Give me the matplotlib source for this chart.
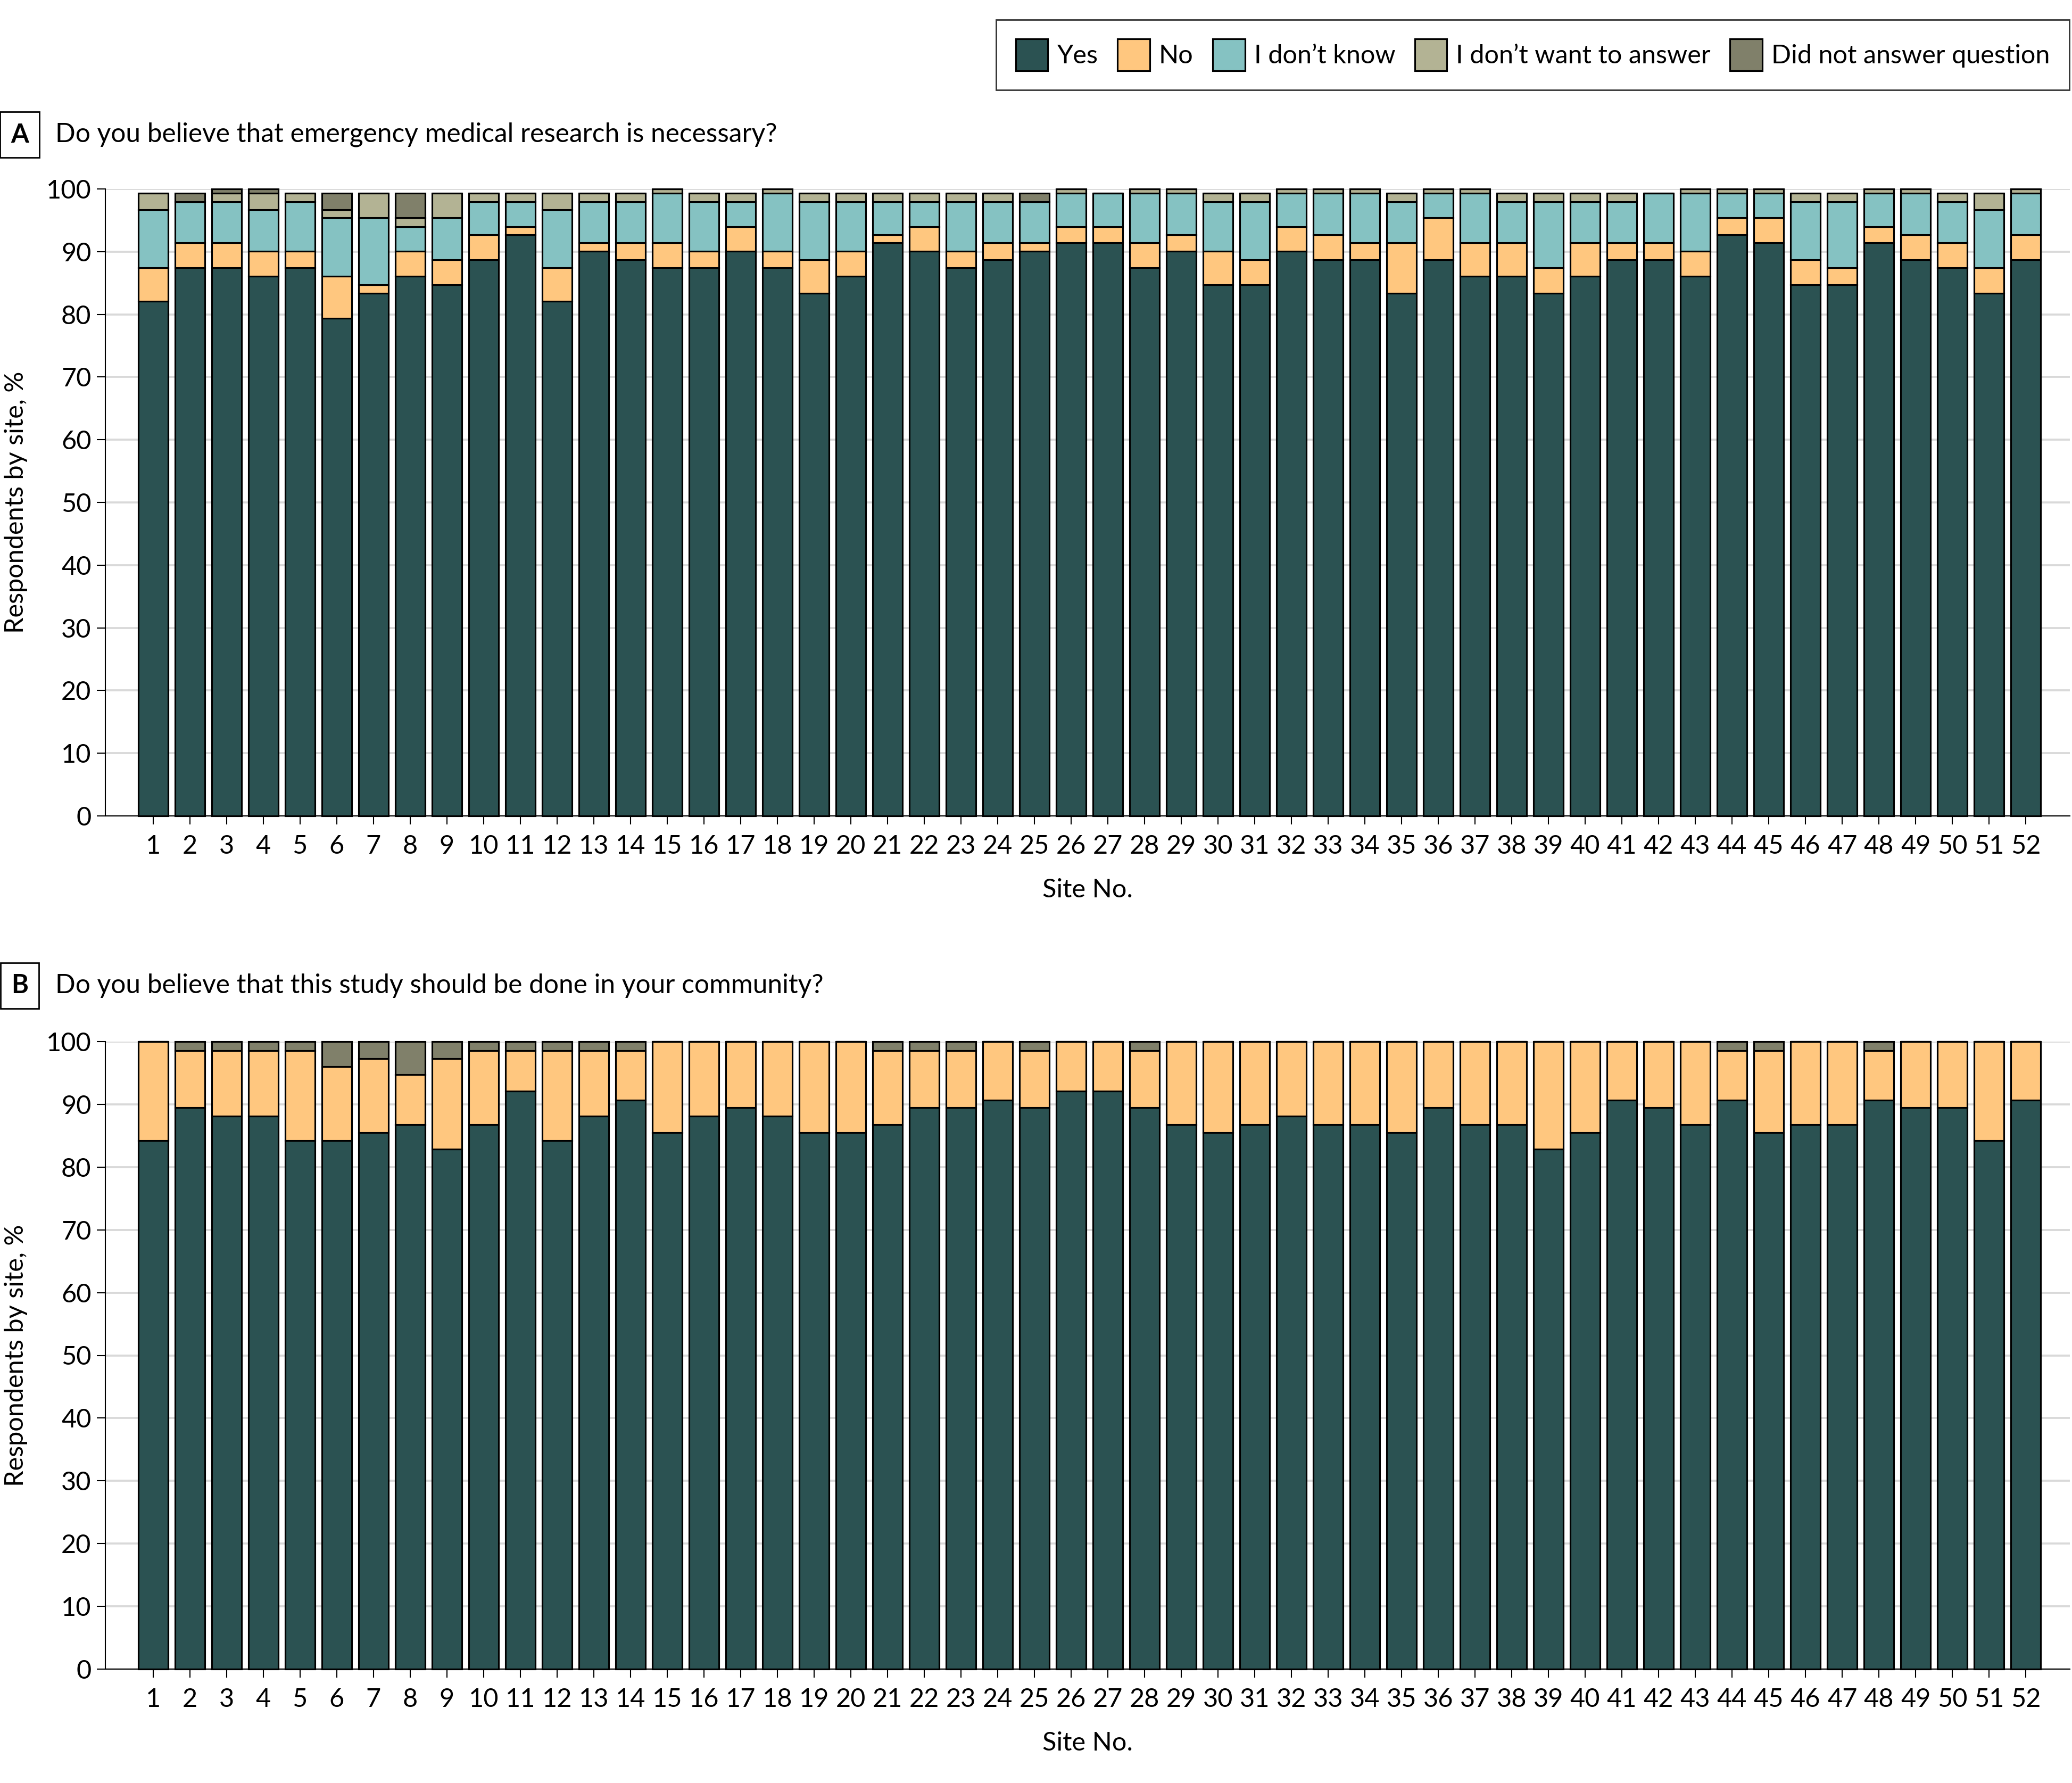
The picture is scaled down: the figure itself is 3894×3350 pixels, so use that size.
import matplotlib
matplotlib.use("Agg")
import matplotlib.pyplot as plt
import numpy as np
from matplotlib.patches import Patch

plt.rcParams['font.family'] = ['Lato', 'DejaVu Sans']

sites = list(range(1, 53))
categories = ["Yes", "No", "I don\u2019t know", "I don\u2019t want to answer", "Did not answer question"]
colors = ["#2B5252", "#FFC77F", "#85C2C2", "#B3B394", "#80806A"]

# Panel A: Do you believe that emergency medical research is necessary?
a_yes = [82.1, 87.4, 87.4, 86.1, 87.4, 79.4, 83.4, 86.1, 84.7, 88.7, 92.7, 82.1, 90.1,
         88.7, 87.4, 87.4, 90.1, 87.4, 83.4, 86.1, 91.4, 90.1, 87.4, 88.7, 90.1, 91.4,
         91.4, 87.4, 90.1, 84.7, 84.7, 90.1, 88.7, 88.7, 83.4, 88.7, 86.1, 86.1, 83.4,
         86.1, 88.7, 88.7, 86.1, 92.7, 91.4, 84.7, 84.7, 91.4, 88.7, 87.4, 83.4, 88.7]
a_no = [5.3, 4.0, 4.0, 4.0, 2.7, 6.7, 1.3, 4.0, 4.0, 4.0, 1.3, 5.3, 1.3,
        2.7, 4.0, 2.7, 3.9, 2.7, 5.3, 4.0, 1.3, 3.9, 2.7, 2.7, 1.3, 2.6,
        2.6, 4.0, 2.6, 5.4, 4.0, 3.9, 4.0, 2.7, 8.0, 6.7, 5.3, 5.3, 4.0,
        5.3, 2.7, 2.7, 4.0, 2.7, 4.0, 4.0, 2.7, 2.6, 4.0, 4.0, 4.0, 4.0]
a_idk = [9.3, 6.6, 6.6, 6.6, 7.9, 9.3, 10.7, 3.9, 6.7, 5.3, 4.0, 9.3, 6.6,
         6.6, 7.9, 7.9, 4.0, 9.2, 9.3, 7.9, 5.3, 4.0, 7.9, 6.6, 6.6, 5.3,
         5.3, 7.9, 6.6, 7.9, 9.3, 5.3, 6.6, 7.9, 6.6, 3.9, 7.9, 6.6, 10.6,
         6.6, 6.6, 7.9, 9.2, 3.9, 3.9, 9.3, 10.6, 5.3, 6.6, 6.6, 9.3, 6.6]
a_idwa = [2.6, 0.0, 1.3, 2.6, 1.3, 1.3, 3.9, 1.4, 3.9, 1.3, 1.3, 2.6, 1.3,
          1.3, 0.7, 1.3, 1.3, 0.7, 1.3, 1.3, 1.3, 1.3, 1.3, 1.3, 0.0, 0.7,
          0.0, 0.7, 0.7, 1.3, 1.3, 0.7, 0.7, 0.7, 1.3, 0.7, 0.7, 1.3, 1.3,
          1.3, 1.3, 0.0, 0.7, 0.7, 0.7, 1.3, 1.3, 0.7, 0.7, 1.3, 2.6, 0.7]
a_dna = [0.0, 1.3, 0.7, 0.7, 0.0, 2.6, 0.0, 3.9, 0.0, 0.0, 0.0, 0.0, 0.0,
         0.0, 0.0, 0.0, 0.0, 0.0, 0.0, 0.0, 0.0, 0.0, 0.0, 0.0, 1.3, 0.0,
         0.0, 0.0, 0.0, 0.0, 0.0, 0.0, 0.0, 0.0, 0.0, 0.0, 0.0, 0.0, 0.0,
         0.0, 0.0, 0.0, 0.0, 0.0, 0.0, 0.0, 0.0, 0.0, 0.0, 0.0, 0.0, 0.0]

# Panel B: Do you believe that this study should be done in your community?
b_yes = [84.2, 89.5, 88.1, 88.1, 84.2, 84.2, 85.5, 86.8, 82.9, 86.8, 92.1, 84.2, 88.1,
         90.7, 85.5, 88.1, 89.5, 88.1, 85.5, 85.5, 86.8, 89.5, 89.5, 90.7, 89.5, 92.1,
         92.1, 89.5, 86.8, 85.5, 86.8, 88.1, 86.8, 86.8, 85.5, 89.5, 86.8, 86.8, 82.9,
         85.5, 90.7, 89.5, 86.8, 90.7, 85.5, 86.8, 86.8, 90.7, 89.5, 89.5, 84.2, 90.7]
b_no = [15.8, 9.1, 10.5, 10.5, 14.4, 11.8, 11.8, 7.9, 14.4, 11.8, 6.5, 14.4, 10.5,
        7.9, 14.5, 11.9, 10.5, 11.9, 14.5, 14.5, 11.8, 9.1, 9.1, 9.3, 9.1, 7.9,
        7.9, 9.1, 13.2, 14.5, 13.2, 11.9, 13.2, 13.2, 14.5, 10.5, 13.2, 13.2, 17.1,
        14.5, 9.3, 10.5, 13.2, 7.9, 13.1, 13.2, 13.2, 7.9, 10.5, 10.5, 15.8, 9.3]
b_idk = [0.0] * 52
b_idwa = [0.0] * 52
b_dna = [0.0, 1.4, 1.4, 1.4, 1.4, 4.0, 2.7, 5.3, 2.7, 1.4, 1.4, 1.4, 1.4,
         1.4, 0.0, 0.0, 0.0, 0.0, 0.0, 0.0, 1.4, 1.4, 1.4, 0.0, 1.4, 0.0,
         0.0, 1.4, 0.0, 0.0, 0.0, 0.0, 0.0, 0.0, 0.0, 0.0, 0.0, 0.0, 0.0,
         0.0, 0.0, 0.0, 0.0, 1.4, 1.4, 0.0, 0.0, 1.4, 0.0, 0.0, 0.0, 0.0]

panel_a = [a_yes, a_no, a_idk, a_idwa, a_dna]
panel_b = [b_yes, b_no, b_idk, b_idwa, b_dna]
titles = ["Do you believe that emergency medical research is necessary?",
          "Do you believe that this study should be done in your community?"]
letters = ["A", "B"]

W, H = 3894, 3350
DPI = 250
fig = plt.figure(figsize=(W / DPI, H / DPI), dpi=DPI)

FS = 14
left = 198 / W
right = 3890 / W
axes_px = [(355, 1533), (1957, 3136)]
title_y_px = [253, 1852]

for idx, data in enumerate([panel_a, panel_b]):
    top_px, bot_px = axes_px[idx]
    ax = fig.add_axes([left, 1 - bot_px / H, right - left, (bot_px - top_px) / H])
    x = np.array(sites)
    bottom = np.zeros(len(sites))
    for vals, col in zip(data, colors):
        v = np.array(vals)
        ax.bar(x, v, bottom=bottom, width=0.81, color=col, edgecolor="black",
               linewidth=0.9, zorder=3, clip_on=False)
        bottom += v
    ax.set_xlim(-0.3, 53.2)
    ax.set_ylim(0, 100)
    ax.set_yticks(np.arange(0, 101, 10))
    ax.set_xticks(x)
    ax.set_xticklabels([str(s) for s in sites])
    ax.yaxis.grid(True, color="#D9D9D9", linewidth=1.1, zorder=0)
    ax.set_axisbelow(True)
    for s in ["top", "right"]:
        ax.spines[s].set_visible(False)
    for s in ["left", "bottom"]:
        ax.spines[s].set_linewidth(0.6)
        ax.spines[s].set_zorder(4)
    ax.tick_params(axis="both", labelsize=FS, length=4.6, width=0.6, colors="black")
    ax.tick_params(axis="x", pad=5.5)
    ax.tick_params(axis="y", pad=3.0)
    ax.set_xlabel("Site No.", fontsize=FS, labelpad=11)
    fig.text(30 / W, 1 - ((top_px + bot_px) / 2) / H, "Respondents by site, %",
             rotation=90, ha="center", va="center", fontsize=FS)
    ty = 1 - title_y_px[idx] / H
    fig.text(37 / W, ty, letters[idx], ha="center", va="center", fontsize=FS,
             fontweight="bold",
             bbox=dict(boxstyle="square,pad=0.42", fc="white", ec="black", lw=0.8))
    fig.text(104 / W, ty, titles[idx], ha="left", va="center", fontsize=14.3)

handles = [Patch(facecolor=c, edgecolor="black", linewidth=0.9) for c in colors]
leg = fig.legend(handles, categories, loc="upper right", ncol=5,
                 bbox_to_anchor=(3889 / W, 1 - 37 / H), fontsize=FS,
                 frameon=True, fancybox=False, edgecolor="black",
                 handlelength=1.25, handleheight=1.5, handletextpad=0.35,
                 columnspacing=0.75, borderpad=0.75, borderaxespad=0.0)
leg.get_frame().set_linewidth(0.8)

fig.savefig("out.png", dpi=DPI)
